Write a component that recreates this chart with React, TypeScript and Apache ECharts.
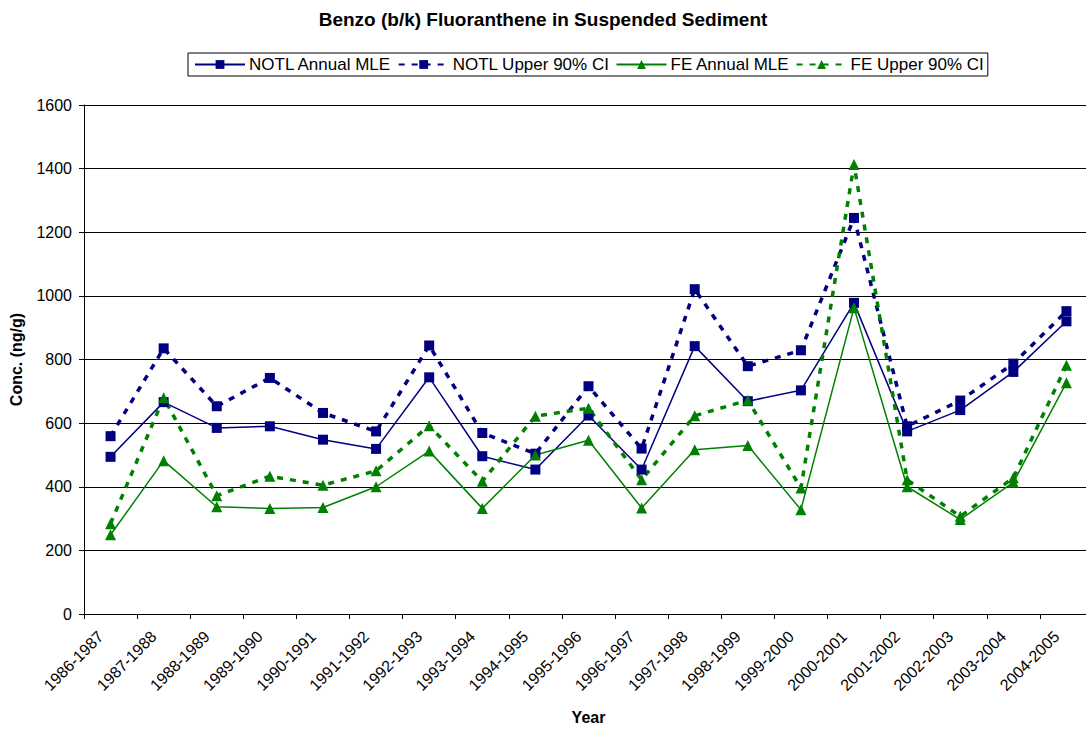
import React, { useEffect, useRef } from "react";
import * as echarts from "echarts";

const categories = [
  "1986-1987", "1987-1988", "1988-1989", "1989-1990", "1990-1991", "1991-1992",
  "1992-1993", "1993-1994", "1994-1995", "1995-1996", "1996-1997", "1997-1998",
  "1998-1999", "1999-2000", "2000-2001", "2001-2002", "2002-2003", "2003-2004",
  "2004-2005",
];
const notlMle = [494, 666, 585, 590, 548, 519, 744, 496, 454, 624, 454, 842, 669, 703, 978, 574, 641, 761, 920];
const notlCi = [559, 835, 653, 742, 632, 574, 844, 569, 504, 716, 520, 1021, 779, 829, 1245, 590, 671, 787, 952];
const feMle = [249, 482, 337, 332, 335, 400, 512, 332, 500, 546, 333, 516, 530, 328, 963, 400, 297, 414, 727];
const feCi = [284, 680, 372, 433, 405, 450, 592, 417, 622, 647, 422, 623, 672, 396, 1413, 422, 307, 428, 782];
const yTicks = { min: 0, max: 1600, interval: 200 };

const NAVY = "#000080";
const GREEN = "#008000";
const FONT = "Liberation Sans, Arial, sans-serif";

export default function App() {
  const ref = useRef<HTMLDivElement>(null);
  useEffect(() => {
    if (!ref.current) return;
    const chart = echarts.init(ref.current, undefined, { renderer: "svg" });
    const mk = (name: string, data: number[], color: string, dashed: boolean, symbol: string, size: number) => ({
      name,
      type: "line",
      data,
      symbol,
      symbolSize: size,
      itemStyle: { color },
      lineStyle: dashed
        ? { color, width: 3.5, type: [6, 7] }
        : { color, width: 1.5, type: "solid" },
      emphasis: { disabled: true },
    });
    chart.setOption({
      animation: false,
      textStyle: { fontFamily: FONT },
      title: {
        text: "Benzo (b/k) Fluoranthene in Suspended Sediment",
        left: "center",
        top: 5,
        textStyle: { fontSize: 19, fontWeight: "bold", color: "#000", fontFamily: FONT },
      },
      legend: {
        left: 188,
        top: 53,
        padding: [3, 4, 3, 6],
        itemWidth: 50,
        itemHeight: 11,
        itemGap: 6,
        borderColor: "#000",
        borderWidth: 1,
        textStyle: { fontSize: 17, color: "#000", fontFamily: FONT, padding: [0, 0, 0, -1] },
        data: ["NOTL Annual MLE", "NOTL Upper 90% CI", "FE Annual MLE", "FE Upper 90% CI"],
      },
      grid: { left: 84, top: 105, right: -7, bottom: 115, containLabel: false, outerBoundsMode: "none" },
      xAxis: {
        type: "category",
        data: categories,
        boundaryGap: true,
        name: "Year",
        nameLocation: "middle",
        nameGap: 95,
        nameTextStyle: { fontSize: 16, fontWeight: "bold", color: "#000", fontFamily: FONT },
        axisLine: { lineStyle: { color: "#000", width: 1 } },
        axisTick: { show: true, length: 5, lineStyle: { color: "#000" } },
        axisLabel: {
          rotate: 45,
          interval: 0,
          fontSize: 16,
          color: "#000",
          margin: 10,
          padding: [0, 14, 0, 0],
          fontFamily: FONT,
        },
        splitLine: { show: false },
      },
      yAxis: {
        type: "value",
        min: yTicks.min,
        max: yTicks.max,
        interval: yTicks.interval,
        name: "Conc. (ng/g)",
        nameLocation: "middle",
        nameGap: 60,
        nameTextStyle: { fontSize: 16, fontWeight: "bold", color: "#000", fontFamily: FONT },
        axisLine: { show: true, lineStyle: { color: "#000", width: 1 } },
        axisTick: { show: true, length: 5, lineStyle: { color: "#000" } },
        axisLabel: {
          fontSize: 16,
          color: "#000",
          margin: 12,
          fontFamily: FONT,
          formatter: (v: number) => String(v),
        },
        splitLine: { show: true, lineStyle: { color: "#000", width: 1 } },
      },
      series: [
        mk("NOTL Annual MLE", notlMle, NAVY, false, "rect", 10),
        mk("NOTL Upper 90% CI", notlCi, NAVY, true, "rect", 10),
        mk("FE Annual MLE", feMle, GREEN, false, "triangle", 11),
        mk("FE Upper 90% CI", feCi, GREEN, true, "triangle", 11),
      ],
    });
    return () => chart.dispose();
  }, []);
  return (
    <div
      ref={ref}
      style={{ position: "absolute", left: 0, top: 0, width: 1086, height: 729, background: "#fff" }}
    />
  );
}
